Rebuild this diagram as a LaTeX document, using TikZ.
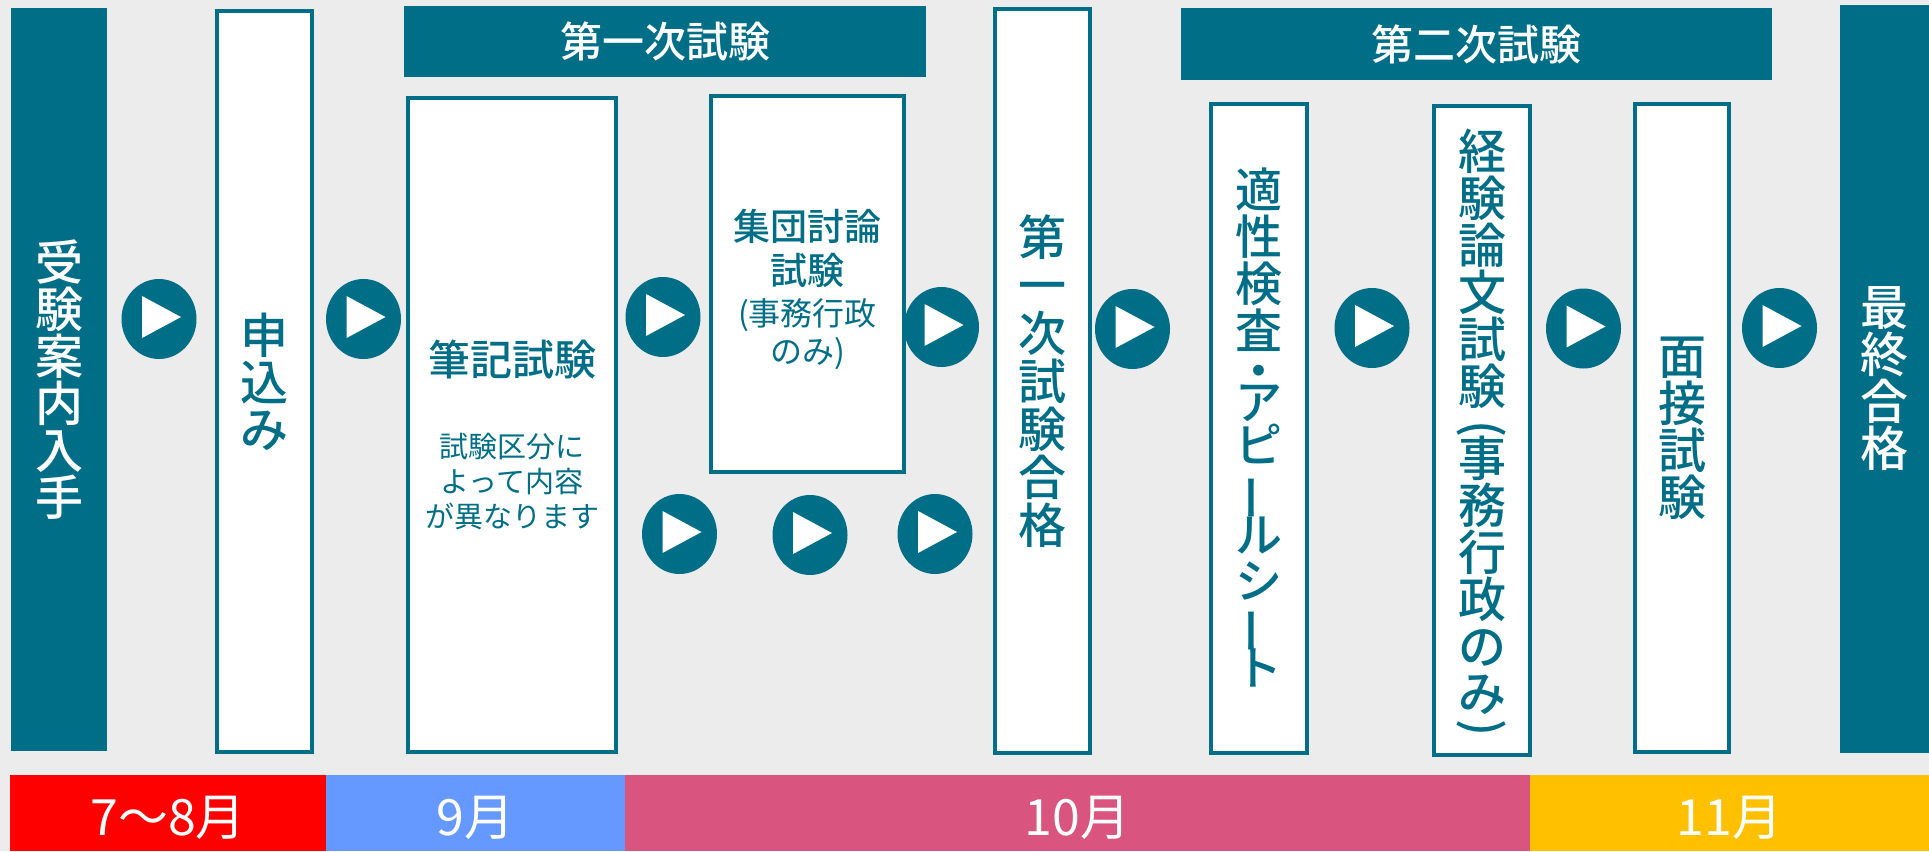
\documentclass[tikz,border=0pt]{standalone}
\usepackage{fontspec}
\usepackage{graphicx}
\usetikzlibrary{shapes.geometric}
\newfontfamily\jp{Noto Sans CJK JP}
\newfontfamily\jpm{Noto Sans CJK JP Medium}
\definecolor{teal1}{RGB}{0,110,135}
\definecolor{bgc}{RGB}{236,236,236}
\definecolor{mred}{RGB}{255,0,0}
\definecolor{mblue}{RGB}{102,153,255}
\definecolor{mpink}{RGB}{218,84,128}
\definecolor{myellow}{RGB}{255,192,0}
\lineskiplimit=-1000pt
\newcommand\vlong{\rotatebox[origin=c]{90}{ー}}
\newcommand\vlparen{\rotatebox[origin=c]{-90}{(}}
\newcommand\vrparen{\rotatebox[origin=c]{-90}{)}}
\begin{document}
\begin{tikzpicture}[x=1pt,y=-1pt,
  every node/.style={inner sep=0pt, outer sep=0pt},
  darkbox/.style={rectangle, fill=teal1, text=white},
  whitebox/.style={rectangle, draw=teal1, line width=4pt, fill=white, text=teal1},
  hdrtext/.style={font=\jpm\fontsize{42}{44}\selectfont},
  vtxt/.style={align=center, font=\jpm\fontsize{48}{47}\selectfont},
  play/.style={ellipse, fill=teal1, minimum width=75pt, minimum height=80pt},
  monthbox/.style={rectangle, minimum height=76pt},
  monthtext/.style={text=white, font=\jp\fontsize{50}{52}\selectfont},
]
\fill[bgc] (0,0) rectangle (1929,851);
\useasboundingbox (0,0) rectangle (1929,851);

% dark boxes
\node[darkbox, vtxt, minimum width=96pt, minimum height=743pt] (start) at (59,379.5) {受\\験\\案\\内\\入\\手};
\node[darkbox, vtxt, minimum width=89pt, minimum height=748pt] (final) at (1884.5,379) {最\\終\\合\\格};
\node[darkbox, hdrtext, minimum width=522pt, minimum height=71pt] (hdr1) at (665,41.5) {第一次試験};
\node[darkbox, hdrtext, minimum width=591pt, minimum height=72pt] (hdr2) at (1476.5,44) {第二次試験};

% white boxes
\node[whitebox, vtxt, minimum width=95pt, minimum height=741pt] (apply) at (264.5,381.5) {申\\込\\み};
\node[whitebox, minimum width=208pt, minimum height=654pt] (written) at (512,425) {};
\node[whitebox, minimum width=193pt, minimum height=376pt] (group) at (807.5,284) {};
\node[whitebox, minimum width=95pt, minimum height=744pt] (pass1) at (1042.5,381) {};
\node[whitebox, minimum width=96pt, minimum height=649pt] (aptitude) at (1259,428.5) {};
\node[whitebox, minimum width=96pt, minimum height=649pt] (essay) at (1482,430.5) {};
\node[whitebox, vtxt, minimum width=94pt, minimum height=648pt] (interview) at (1682,428) {面\\接\\試\\験};

% texts in white boxes
\node[text=teal1, font=\jpm\fontsize{42}{44}\selectfont] (writtenT) at (512,360) {筆記試験};
\node[text=teal1, align=center, font=\jp\fontsize{29}{35}\selectfont] (writtenS) at (512,482) {試験区分に\\よって内容\\が異なります};
\node[text=teal1, align=center, font=\jpm\fontsize{37}{44}\selectfont] (groupT) at (807.5,248.5) {集団討論\\試験};
\node[text=teal1, align=center, font=\jp\fontsize{32}{38}\selectfont] (groupS) at (807.5,334) {(事務行政\\のみ)};
\node[text=teal1, vtxt, font=\jpm\fontsize{48}{48}\selectfont] (pass1T) at (1042.5,381.5) {第\\一\\次\\試\\験\\合\\格};
\node[text=teal1, align=center, font=\jpm\fontsize{47}{45}\selectfont] (aptitudeT) at (1259,428) {適\\[2pt]性\\[2pt]検\\[2pt]査\\[-5pt]・\\[-14pt]ア\\[-2pt]ピ\\\vlong\\ル\\[1pt]シ\\[-3pt]\vlong\\ト};
\node[text=teal1, vtxt, anchor=north] (essayT) at (1482,129) {経\\験\\論\\文\\試\\験\\[-7pt]\vlparen\\[-15pt]事\\務\\行\\政\\の\\み\\[-15pt]\vrparen};

% month bar
\node[monthbox, fill=mred, minimum width=316pt] (m78) at (168,813) {};
\node[monthbox, fill=mblue, minimum width=299pt] (m9) at (475.5,813) {};
\node[monthbox, fill=mpink, minimum width=905pt] (m10) at (1077.5,813) {};
\node[monthbox, fill=myellow, minimum width=399pt] (m11) at (1729.5,813) {};
\node[monthtext] (m78T) at (168,818) {7～8月};
\node[monthtext] (m9T) at (475.5,818) {9月};
\node[monthtext] (m10T) at (1077.5,818) {10月};
\node[monthtext] (m11T) at (1729.5,818) {11月};

% play buttons
\node[play] (p1) at (159,319) {};
\node[play] (p2) at (363.5,319) {};
\node[play] (p3) at (663,317) {};
\node[play] (p4) at (941.5,327) {};
\node[play] (p5) at (679.5,534) {};
\node[play] (p6) at (810,535) {};
\node[play] (p7) at (935,534) {};
\node[play] (p8) at (1132.5,329) {};
\node[play] (p9) at (1372,328) {};
\node[play] (p10) at (1583.5,328.5) {};
\node[play] (p11) at (1779.5,328) {};
\foreach \p in {p1,p2,p3,p4,p5,p6,p7,p8,p9,p10,p11}{
  \fill[white] ([shift={(-17,-23)}]\p.center) -- ([shift={(-17,19)}]\p.center) -- ([shift={(22,-2)}]\p.center) -- cycle;
}
\end{tikzpicture}
\end{document}
